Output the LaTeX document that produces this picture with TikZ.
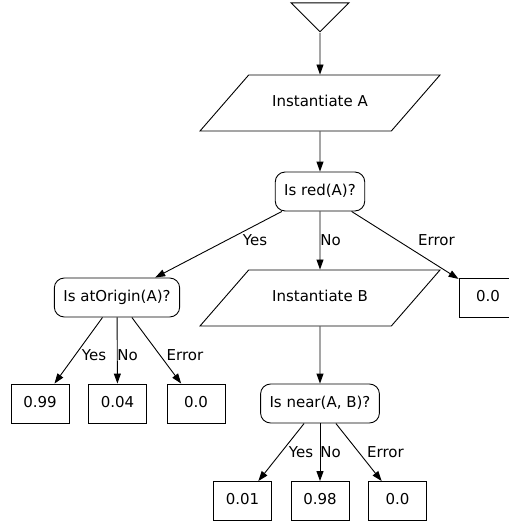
\documentclass[tikz,border=0pt]{standalone}
\usepackage{fontspec}
\setmainfont{DejaVu Sans}
\usetikzlibrary{shapes.geometric,arrows.meta}

\tikzstyle{source} = [isosceles triangle, isosceles triangle stretches, shape border rotate=-90, minimum width=58pt, minimum height=29pt, inner sep=0pt, draw=black]
\tikzstyle{io} = [trapezium, trapezium left angle=49, trapezium right angle=131, trapezium stretches body, minimum width=240pt, inner ysep=20.75pt, text height=11pt, text depth=3.5pt, text centered, draw=black]
\tikzstyle{decision} = [rectangle, rounded corners=10pt, minimum height=39pt, inner xsep=9pt, text height=11pt, text depth=3.5pt, text centered, draw=black]
\tikzstyle{leaf} = [rectangle, minimum width=58pt, minimum height=39pt, text height=11pt, text depth=3.5pt, text centered, draw=black]
\tikzstyle{branch} = [inner sep=0pt, text height=11pt, text depth=3.5pt]
\tikzstyle{arrow} = [->,>={Triangle[length=10pt,width=7pt]}]

\begin{document}
\begin{tikzpicture}[x=1pt, y=-1pt, line width=0.9pt, font=\fontsize{15}{18}\selectfont]
	
	\def \xleaf {77.5pt}
	
	\useasboundingbox (0,0) rectangle (509,523);
	\clip (0,0) rectangle (509,523);
	
	\node (start) [source, anchor=apex] at (320,33) {};
	\node (inst a) [io] at (320,103) {Instantiate A};
	\node (red) [decision, below of=inst a, node distance=88.5pt] {Is red(A)?};
	\node (origin) [decision, below of=red, node distance=106pt, xshift=-203pt] {Is atOrigin(A)?};
	\node (err a) [leaf, below of=red, node distance=106pt, xshift=168pt] {0.0};
	\node (inst b) [io, below of=red, node distance=106.5pt] {Instantiate B};
	\node (near) [decision, below of=inst b, node distance=105.5pt] {Is near(A, B)?};
	
	\node (o2) [leaf, below of=origin, node distance=106pt, xshift=0.5pt] {0.04};
	\node (o1) [leaf, left of=o2, node distance=\xleaf] {0.99};
	\node (o3) [leaf, right of=o2, node distance=78.5pt] {0.0};
	
	\node (n2) [leaf, below of=near, node distance=97.5pt] {0.98};
	\node (n1) [leaf, left of=n2, node distance=\xleaf] {0.01};
	\node (n3) [leaf, right of=n2, node distance=\xleaf] {0.0};
	
	%arrow
	\draw [arrow] (start) -- (inst a);
	\draw [arrow] (inst a) -- (red);
	\draw [arrow] (red) -- (origin);
	\draw [arrow] (red) -- (inst b);
	\draw [arrow] (red) -- (err a);
	\draw [arrow] (inst b) -- (near);
	\draw [arrow] (origin) -- (o1);
	\draw [arrow] (origin) -- (o2);
	\draw [arrow] (origin) -- (o3);
	\draw [arrow] (near) -- (n1);
	\draw [arrow] (near) -- (n2);
	\draw [arrow] (near) -- (n3);
	
	%labels
	\node (red yes) [branch] at (255,241.25) {Yes};
	\node (red no) [branch] at (330.5,241.25) {No};
	\node (red err) [branch] at (436.5,241.25) {Error};
	\node (origin yes) [branch] at (94,356.25) {Yes};
	\node (origin no) [branch] at (127.5,356.25) {No};
	\node (origin err) [branch] at (185,356.25) {Error};
	\node (near yes) [branch] at (301,453.25) {Yes};
	\node (near no) [branch] at (330.5,453.25) {No};
	\node (near err) [branch] at (385.5,453.25) {Error};
	
\end{tikzpicture}
\end{document}
